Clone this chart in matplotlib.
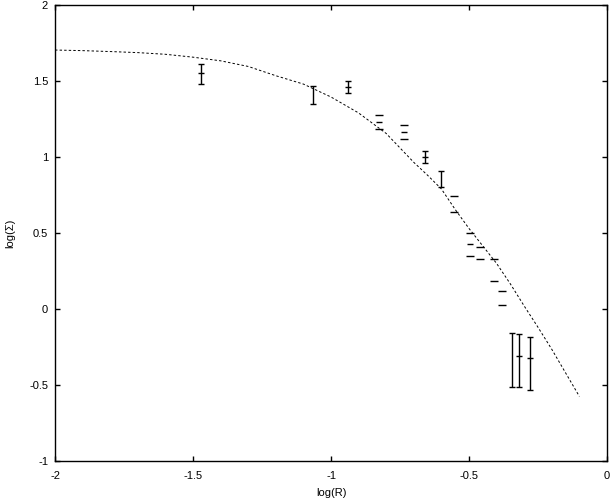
import matplotlib
matplotlib.use("Agg")
import matplotlib.pyplot as plt

plt.rcParams["font.family"] = ["Liberation Sans", "DejaVu Sans"]
plt.rcParams["font.size"] = 8

# model curve
curve_x = [-2.0, -1.9, -1.8, -1.7, -1.6, -1.5, -1.4, -1.3, -1.2, -1.1, -1.0, -0.9,
           -0.8, -0.7, -0.65, -0.6, -0.55, -0.5, -0.45, -0.4, -0.35, -0.3, -0.25,
           -0.2, -0.15, -0.1]
curve_y = [1.704, 1.700, 1.694, 1.687, 1.676, 1.657, 1.633, 1.596, 1.535, 1.480, 1.395,
           1.290, 1.155, 0.965, 0.88, 0.79, 0.655, 0.53, 0.415, 0.30, 0.165, 0.02,
           -0.12, -0.265, -0.42, -0.575]

# error bars with visible centre mark
bar_x = [-1.470, -0.937, -0.659, -0.318, -0.279]
bar_y = [1.551, 1.461, 1.002, -0.311, -0.324]
bar_lo = [0.073, 0.040, 0.043, 0.202, 0.211]
bar_hi = [0.059, 0.038, 0.040, 0.144, 0.138]

# error bars, centre hidden
bar2_x = [-1.065, -0.601, -0.343]
bar2_y = [1.406, 0.853, -0.338]
bar2_err = [0.059, 0.053, 0.178]

# caps only (three dashes)
dash_x = [-0.825, -0.736, -0.496]
dash_y = [1.232, 1.163, 0.427]
dash_err = [0.046, 0.047, 0.075]

# caps only (two dashes)
dash2_x = [-0.554, -0.460, -0.408, -0.382]
dash2_y = [0.689, 0.368, 0.256, 0.072]
dash2_err = [0.052, 0.041, 0.071, 0.046]

fig = plt.figure(figsize=(6.12, 5.04), dpi=100)
ax = fig.add_axes([0.0899, 0.0853, 0.9019, 0.9047])

ax.plot(curve_x, curve_y, color="black", lw=0.7, ls=(0, (2.5, 2.2)))

ax.errorbar(bar_x, bar_y, yerr=[bar_lo, bar_hi], fmt="_", color="black", ms=4,
            mew=1, elinewidth=1, capsize=2, capthick=1)
ax.errorbar(bar2_x, bar2_y, yerr=bar2_err, fmt="none", ecolor="black",
            elinewidth=1, capsize=2, capthick=1)
ax.errorbar(dash_x, dash_y, yerr=dash_err, fmt="_", color="black", ms=5,
            mew=1, elinewidth=0, capsize=2.6, capthick=1)
ax.errorbar(dash2_x, dash2_y, yerr=dash2_err, fmt="none", ecolor="black",
            elinewidth=0, capsize=2.6, capthick=1)

ax.set_xlim(-2, 0)
ax.set_ylim(-1, 2)
ax.set_xticks([-2, -1.5, -1, -0.5, 0])
ax.set_xticklabels(["-2", "-1.5", "-1", "-0.5", "0"])
ax.set_yticks([-1, -0.5, 0, 0.5, 1, 1.5, 2])
ax.set_yticklabels(["-1", "-0.5", "0", "0.5", "1", "1.5", "2"])
ax.tick_params(direction="in", length=3.6, width=1, top=True, right=True)
ax.tick_params(axis="x", pad=7)
ax.tick_params(axis="y", pad=5)
for s in ax.spines.values():
    s.set_linewidth(1)

ax.set_xlabel("log(R)", labelpad=5)
ax.set_ylabel("log(Σ)", labelpad=10)

fig.savefig("out.png", dpi=100)
